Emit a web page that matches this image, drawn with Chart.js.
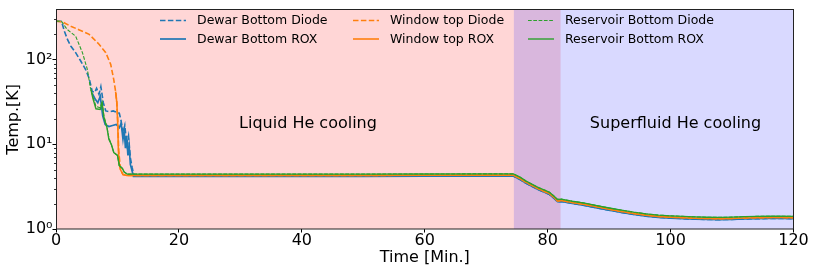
<!DOCTYPE html>
<html>
<head>
<meta charset="utf-8">
<script src="https://cdn.jsdelivr.net/npm/chart.js@4.4.1/dist/chart.umd.min.js"></script>
<style>
  html, body { margin: 0; padding: 0; background: #fff; }
</style>
</head>
<body>
<canvas id="chart" width="817" height="273"></canvas>
<script>
// early cool-down, each sensor on its own time base (minutes / kelvin)
const dewarDiodeTime = [0, 0.9, 1.4, 1.9, 2.4, 3.2, 4.0, 4.8, 5.4, 5.9, 6.3, 6.6, 7.0, 7.3, 7.7, 8.1, 8.7, 9.3, 9.9, 10.3, 10.6, 10.9, 11.2, 11.5, 11.8, 12.1, 12.4, 12.7];
const dewarDiodeTemp = [285, 283, 213, 171, 145, 121, 97, 77, 60, 42, 41, 46, 39, 48, 31, 24.8, 24.3, 24.8, 23.8, 23.3, 18.8, 13.6, 16.7, 10, 12.6, 6.9, 5.3, 4.19];
const dewarRoxTime = [5.9, 6.4, 6.8, 7.2, 7.6, 8.0, 8.6, 9.2, 9.8, 10.3, 10.6, 10.9, 11.1, 11.3, 11.5, 11.7, 11.9, 12.1, 12.3, 12.6];
const dewarRoxTemp = [40, 34, 31, 37, 21.7, 17.2, 16.2, 16.7, 17.2, 15.7, 17.8, 11.5, 14.6, 9, 12.6, 7.4, 9.5, 5.8, 5.1, 4.19];
const windowDiodeTime = [0, 1.0, 2.4, 3.7, 5.4, 7.0, 8.1, 8.9, 9.4, 9.7, 9.9, 10.05, 10.2, 10.5, 10.9, 11.5];
const windowDiodeTemp = [285, 280, 248, 226, 199, 152, 121, 88, 58, 42, 31, 18.8, 8.5, 5.0, 4.4, 4.3];
const windowRoxTime = [9.7, 9.9, 10.05, 10.15, 10.3, 10.5, 10.9, 11.5];
const windowRoxTemp = [42, 31, 16.7, 8.5, 5.8, 5.0, 4.4, 4.3];
const reservoirDiodeTime = [0, 0.9, 1.8, 3.2, 4.3, 5.1, 5.6, 6.0, 6.5, 7.2, 7.5, 7.8, 8.3, 8.6, 9.0, 9.4, 10.0, 10.3, 10.8, 11.1, 11.6];
const reservoirDiodeTemp = [285, 283, 228, 189, 121, 77, 46, 37, 28, 27, 32, 21.7, 15.7, 12, 10, 8, 7.4, 5.6, 5.2, 4.7, 4.45];
const reservoirRoxTime = [5.7, 6.0, 6.5, 7.2, 7.5, 7.8, 8.3, 8.6, 9.0, 9.4, 10.0, 10.3, 10.8, 11.1, 11.6];
const reservoirRoxTemp = [44, 35, 26.3, 25.8, 31, 20.6, 15.7, 11.5, 10, 8, 7.4, 5.6, 5.2, 4.7, 4.45];

// plateau and superfluid part, shared time base
const tailTime = [13, 20, 30, 40, 50, 60, 70, 74.4, 75.5, 76.5, 77.5, 78.5, 79.5, 80.3, 81.0, 81.6, 82.2, 84, 86, 88, 90, 92, 94, 96, 98, 100, 102, 104, 106, 108, 110, 112, 114, 116, 118, 120];
const dewarTail = [4.19, 4.19, 4.19, 4.19, 4.19, 4.2, 4.22, 4.22, 3.85, 3.46, 3.17, 2.91, 2.71, 2.55, 2.32, 2.1, 2.12, 2.01, 1.9, 1.78, 1.67, 1.57, 1.49, 1.42, 1.37, 1.345, 1.325, 1.305, 1.295, 1.29, 1.3, 1.315, 1.325, 1.33, 1.33, 1.325];
const windowTail = [4.3, 4.3, 4.3, 4.3, 4.3, 4.31, 4.33, 4.33, 3.95, 3.55, 3.25, 2.98, 2.78, 2.62, 2.38, 2.15, 2.17, 2.06, 1.95, 1.83, 1.71, 1.61, 1.53, 1.46, 1.41, 1.38, 1.36, 1.34, 1.33, 1.325, 1.335, 1.35, 1.36, 1.365, 1.365, 1.36];
const reservoirTail = [4.45, 4.45, 4.45, 4.45, 4.45, 4.46, 4.48, 4.48, 4.09, 3.67, 3.36, 3.08, 2.88, 2.71, 2.46, 2.23, 2.25, 2.13, 2.02, 1.89, 1.77, 1.67, 1.58, 1.51, 1.46, 1.43, 1.41, 1.39, 1.375, 1.37, 1.38, 1.4, 1.41, 1.415, 1.415, 1.41];

const seriesNames = ['Dewar Bottom Diode', 'Dewar Bottom ROX', 'Window top Diode', 'Window top ROX', 'Reservoir Bottom Diode', 'Reservoir Bottom ROX'];
const xTicks = [0, 20, 40, 60, 80, 100, 120];
const yTicks = [1, 10, 100];
const yTickLabels = ['10\u2070', '10\u00b9', '10\u00b2'];
const liquidSpan = [0, 82.1];
const superfluidSpan = [74.5, 120];
const regionLabels = [
    { text: 'Liquid He cooling', x: 41, y: 17.5 },
    { text: 'Superfluid He cooling', x: 100.8, y: 17.5 },
];

const FONT = 'DejaVu Sans';
const BLUE = '#1f77b4', ORANGE = '#ff7f0e', GREEN = '#2ca02c';

function points(times, temps) {
    return times.map((t, i) => ({ x: t, y: temps[i] }));
}

const styles = [
    { color: BLUE, dash: [5.5, 2.4], width: 1.6 },
    { color: BLUE, dash: [], width: 1.7 },
    { color: ORANGE, dash: [5.5, 2.4], width: 1.6 },
    { color: ORANGE, dash: [], width: 1.6 },
    { color: GREEN, dash: [3.7, 1.6], width: 1.1 },
    { color: GREEN, dash: [], width: 1.4 },
];

const seriesData = [
    points(dewarDiodeTime.concat(tailTime), dewarDiodeTemp.concat(dewarTail)),
    points(dewarRoxTime.concat(tailTime), dewarRoxTemp.concat(dewarTail)),
    points(windowDiodeTime.concat(tailTime), windowDiodeTemp.concat(windowTail)),
    points(windowRoxTime.concat(tailTime), windowRoxTemp.concat(windowTail)),
    points(reservoirDiodeTime.concat(tailTime), reservoirDiodeTemp.concat(reservoirTail)),
    points(reservoirRoxTime.concat(tailTime), reservoirRoxTemp.concat(reservoirTail)),
];

const datasets = seriesData.map((data, i) => ({
    label: seriesNames[i],
    data: data,
    borderColor: styles[i].color,
    borderDash: styles[i].dash,
    borderWidth: styles[i].width,
    pointRadius: 0,
    tension: 0,
    fill: false,
    order: seriesData.length - i, // later series on top, like matplotlib
}));

// shaded regions behind the curves
const shading = {
    id: 'shading',
    beforeDatasetsDraw(chart) {
        const { ctx, chartArea: a, scales: { x } } = chart;
        ctx.save();
        let x0 = x.getPixelForValue(liquidSpan[0]), x1 = x.getPixelForValue(liquidSpan[1]);
        ctx.fillStyle = 'rgba(255,0,0,0.16)';
        ctx.fillRect(x0, a.top, x1 - x0, a.height);
        x0 = x.getPixelForValue(superfluidSpan[0]);
        x1 = x.getPixelForValue(superfluidSpan[1]);
        ctx.fillStyle = 'rgba(0,0,255,0.15)';
        ctx.fillRect(x0, a.top, x1 - x0, a.height);
        ctx.restore();
    },
};

// region labels, frame, minor ticks and legend
const decorations = {
    id: 'decorations',
    afterDraw(chart) {
        const { ctx, chartArea: a, scales: { x, y } } = chart;
        ctx.save();

        ctx.fillStyle = '#000';
        ctx.font = '16px "' + FONT + '"';
        ctx.textAlign = 'center';
        ctx.textBaseline = 'middle';
        regionLabels.forEach(l => ctx.fillText(l.text, x.getPixelForValue(l.x), y.getPixelForValue(l.y)));

        // minor log ticks
        ctx.strokeStyle = '#000';
        ctx.lineWidth = 0.8;
        ctx.beginPath();
        [1, 10, 100].forEach(d => {
            for (let k = 2; k <= 9; k++) {
                const v = d * k;
                if (v > y.max) return;
                const py = Math.round(y.getPixelForValue(v)) + 0.5;
                ctx.moveTo(a.left - 2, py);
                ctx.lineTo(a.left, py);
            }
        });
        ctx.stroke();

        ctx.lineWidth = 1;
        ctx.strokeStyle = '#222';
        ctx.strokeRect(Math.round(a.left) + 0.5, Math.round(a.top) - 0.5, Math.round(a.width) - 1, Math.round(a.height) + 0.5);

        // legend, column-major like matplotlib ncol=3
        const colX = [160, 353, 528];
        const rowY = [20.5, 39];
        ctx.font = '12.5px "' + FONT + '"';
        ctx.textAlign = 'left';
        seriesNames.forEach((name, i) => {
            const cx = colX[Math.floor(i / 2)], cy = rowY[i % 2];
            ctx.beginPath();
            ctx.strokeStyle = styles[i].color;
            ctx.lineWidth = styles[i].width;
            ctx.setLineDash(styles[i].dash);
            ctx.moveTo(cx, cy);
            ctx.lineTo(cx + 26, cy);
            ctx.stroke();
            ctx.setLineDash([]);
            ctx.fillStyle = '#000';
            ctx.fillText(name, cx + 37, cy + 0.5);
        });
        ctx.restore();
    },
};

Chart.defaults.font.family = FONT;
Chart.defaults.color = '#000';

new Chart(document.getElementById('chart'), {
    type: 'line',
    data: { datasets },
    options: {
        responsive: false,
        animation: false,
        layout: { padding: { left: 0, right: 23.5, top: 6.5, bottom: 0 } },
        plugins: { legend: { display: false }, tooltip: { enabled: false } },
        scales: {
            x: {
                type: 'linear',
                min: 0,
                max: 120,
                afterBuildTicks: s => { s.ticks = xTicks.map(v => ({ value: v })); },
                afterFit: s => { s.height = 44; },
                grid: { drawOnChartArea: false, drawTicks: true, tickLength: 3.5, color: '#000' },
                border: { display: false },
                ticks: { font: { size: 16, lineHeight: 1 }, padding: 0, maxRotation: 0, autoSkip: false },
                title: { display: true, text: 'Time [Min.]', font: { size: 16 }, padding: { top: 0, bottom: 6 } },
            },
            y: {
                type: 'logarithmic',
                min: 1,
                max: 390,
                afterBuildTicks: s => { s.ticks = yTicks.map(v => ({ value: v })); },
                afterFit: s => { s.width = 56; },
                grid: { drawOnChartArea: false, drawTicks: true, tickLength: 3.5, color: '#000' },
                border: { display: false },
                ticks: {
                    font: { size: 16 },
                    padding: 0,
                    autoSkip: false,
                    callback: v => yTickLabels[yTicks.indexOf(v)],
                },
                title: { display: true, text: 'Temp.[K]', font: { size: 16 }, padding: { top: 4, bottom: 4 } },
            },
        },
    },
    plugins: [shading, decorations],
});
</script>
</body>
</html>
